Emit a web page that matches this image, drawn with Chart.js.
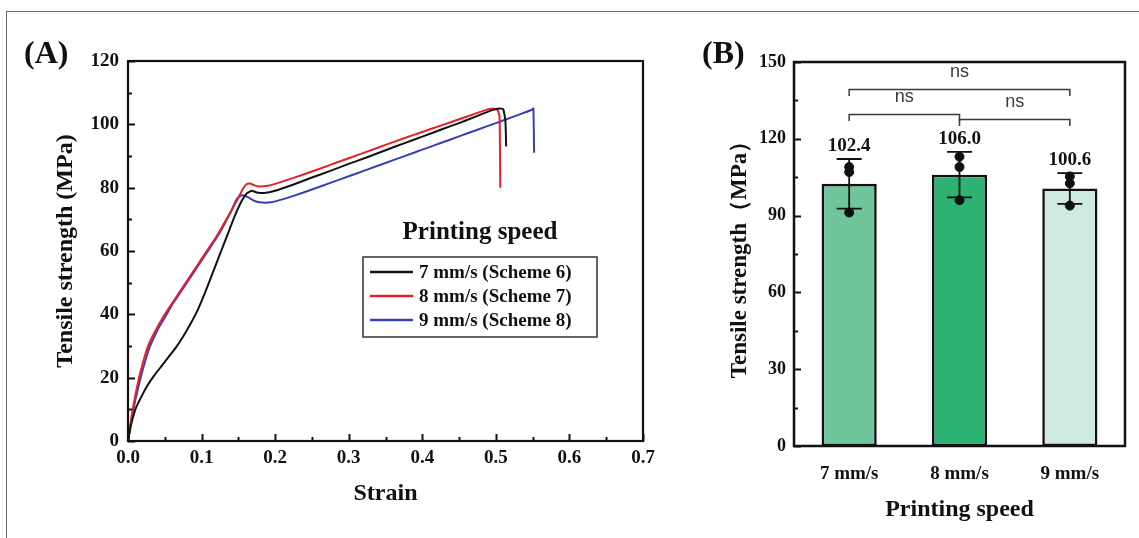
<!DOCTYPE html>
<html>
<head>
<meta charset="utf-8">
<script src="https://cdn.jsdelivr.net/npm/chart.js@4.4.1/dist/chart.umd.min.js"></script>
<style>
  html, body { margin: 0; padding: 0; background: #fff; }
  #page { position: relative; width: 1139px; height: 538px; overflow: hidden; background: #fff; }
  #frame { position: absolute; left: 6px; top: 11px; width: 1200px; height: 600px;
           border-left: 1px solid #6a6a6a; border-top: 1px solid #6a6a6a; }
  .panel { position: absolute; top: 0; height: 538px; }
  #wrapA { left: 0; width: 680px; }
  #wrapB { left: 680px; width: 459px; }
  .tag { position: absolute; font: bold 32px 'Liberation Serif', 'Times New Roman', serif; color: #111; line-height: 1; }
</style>
</head>
<body>
<div id="page">
  <div id="frame"></div>
  <div class="panel" id="wrapA"><canvas id="chartA" width="680" height="538"></canvas></div>
  <div class="panel" id="wrapB"><canvas id="chartB" width="459" height="538"></canvas></div>
  <div class="tag" style="left:24px; top:36px;">(A)</div>
  <div class="tag" style="left:702px; top:36px;">(B)</div>
</div>
<script>
// ---------- Panel A: stress-strain curves ----------
const strain7 = [0, 0.004, 0.01, 0.016, 0.025, 0.035, 0.045, 0.055, 0.065, 0.075, 0.085, 0.095, 0.105, 0.115, 0.125, 0.135, 0.145, 0.155, 0.162, 0.168, 0.175, 0.185, 0.2, 0.225, 0.25, 0.275, 0.3, 0.325, 0.35, 0.375, 0.4, 0.425, 0.45, 0.47, 0.485, 0.495, 0.505, 0.51, 0.513, 0.514];
const stress7 = [0, 5, 10, 13, 17, 20.5, 23.5, 26.5, 29.5, 33, 37, 41.5, 47, 53, 59, 65, 71, 76, 78.3, 79, 78.5, 78.3, 79, 81, 83.2, 85.3, 87.5, 89.6, 91.8, 94, 96.1, 98.3, 100.4, 102.2, 103.6, 104.5, 105, 104.8, 101, 93];

const strain8 = [0, 0.005, 0.01, 0.015, 0.02, 0.025, 0.03, 0.04, 0.05, 0.06, 0.07, 0.08, 0.09, 0.1, 0.11, 0.12, 0.13, 0.14, 0.15, 0.156, 0.161, 0.166, 0.171, 0.178, 0.19, 0.2, 0.225, 0.25, 0.275, 0.3, 0.325, 0.35, 0.375, 0.4, 0.425, 0.45, 0.47, 0.485, 0.495, 0.502, 0.505, 0.506];
const stress8 = [0, 8, 14.5, 20, 24.5, 28.5, 31.5, 36, 40, 43.5, 47, 50.5, 54, 57.5, 61, 64.5, 68.5, 72.5, 76.8, 79.6, 81.1, 81.3, 80.8, 80.4, 80.6, 81.2, 83.1, 85.1, 87.2, 89.3, 91.4, 93.5, 95.6, 97.6, 99.6, 101.6, 103.2, 104.4, 105, 104.6, 102.5, 80];

const strain9 = [0, 0.005, 0.01, 0.015, 0.02, 0.025, 0.03, 0.04, 0.05, 0.06, 0.07, 0.08, 0.09, 0.1, 0.11, 0.12, 0.13, 0.14, 0.148, 0.155, 0.163, 0.172, 0.182, 0.195, 0.21, 0.225, 0.25, 0.275, 0.3, 0.325, 0.35, 0.375, 0.4, 0.425, 0.45, 0.475, 0.5, 0.525, 0.54, 0.549, 0.551, 0.552];
const stress9 = [0, 7, 13, 18, 22.5, 26.5, 30, 35, 39, 43, 46.5, 50, 53.5, 57, 60.5, 64, 68, 72.5, 76.5, 77.6, 77, 75.8, 75.3, 75.4, 76.3, 77.4, 79.4, 81.5, 83.6, 85.7, 87.8, 89.9, 92, 94.1, 96.2, 98.3, 100.4, 102.5, 103.8, 104.6, 105, 91];

const curveLabels = ['7 mm/s (Scheme 6)', '8 mm/s (Scheme 7)', '9 mm/s (Scheme 8)'];
const curveColors = ['#111111', '#e8202a', '#3a3db8'];
const strainTicks = [0, 0.1, 0.2, 0.3, 0.4, 0.5, 0.6, 0.7];
const stressTicks = [0, 20, 40, 60, 80, 100, 120];

// ---------- Panel B: mean tensile strength ----------
const speeds = ['7 mm/s', '8 mm/s', '9 mm/s'];
const meanStrength = [102.4, 106.0, 100.6];
const sdStrength = [9.7, 8.9, 6.0];
const sampleA = [109.0, 113.0, 105.3];
const sampleB = [107.0, 109.0, 102.6];
const sampleC = [91.2, 96.0, 93.9];
const barColors = ['#6fc69c', '#2cb374', '#cfeadf'];
const strengthTicks = [0, 30, 60, 90, 120, 150];
const comparisons = [
  { from: 0, to: 2, level: 139.3, text: 'ns' },
  { from: 0, to: 1, level: 129.7, text: 'ns' },
  { from: 1, to: 2, level: 127.9, text: 'ns' }
];

const SERIF = "'Liberation Serif', 'Times New Roman', serif";
Chart.defaults.font.family = SERIF;
Chart.defaults.font.weight = 'bold';
Chart.defaults.font.size = 19;
Chart.defaults.color = '#111';

// Inward tick marks plus a closed frame around the plot area.
const frameTicks = {
  id: 'frameTicks',
  afterDatasetsDraw(chart, args, opts) {
    const { ctx, chartArea: a } = chart;
    ctx.save();
    ctx.strokeStyle = '#111';
    ctx.lineWidth = 2;
    (opts.axes || []).forEach(ax => {
      const sc = chart.scales[ax.id];
      const n = Math.round((sc.max - sc.min) / ax.minor);
      for (let i = 0; i <= n; i++) {
        const v = sc.min + i * ax.minor;
        const major = i % ax.every === 0;
        const len = major ? ax.majorLen : ax.minorLen;
        const p = Math.round(sc.getPixelForValue(v)) + 0.5;
        ctx.beginPath();
        if (sc.isHorizontal()) { ctx.moveTo(p, a.bottom); ctx.lineTo(p, a.bottom - len); }
        else { ctx.moveTo(a.left, p); ctx.lineTo(a.left + len, p); }
        ctx.stroke();
      }
    });
    ctx.lineWidth = opts.frameWidth || 2.2;
    ctx.strokeRect(a.left, a.top, a.right - a.left, a.bottom - a.top);
    ctx.restore();
  }
};

// Boxed legend with a heading, placed inside the plot area.
const boxLegend = {
  id: 'boxLegend',
  afterDatasetsDraw(chart, args, opts) {
    if (!opts.display) return;
    const { ctx, chartArea: a } = chart;
    const x0 = a.left + opts.dx, y0 = a.top + opts.dy;
    ctx.save();
    ctx.fillStyle = '#111';
    ctx.textAlign = 'center';
    ctx.textBaseline = 'middle';
    ctx.font = 'bold 25px ' + SERIF;
    ctx.fillText(opts.title, x0 + opts.w / 2, y0 - 24);
    ctx.strokeStyle = '#333';
    ctx.lineWidth = 1.5;
    ctx.strokeRect(x0, y0, opts.w, opts.h);
    ctx.font = 'bold 19px ' + SERIF;
    ctx.textAlign = 'left';
    chart.data.datasets.forEach((ds, i) => {
      const y = y0 + 15 + i * 24;
      ctx.strokeStyle = ds.borderColor;
      ctx.lineWidth = 2.5;
      ctx.beginPath();
      ctx.moveTo(x0 + 7, y); ctx.lineTo(x0 + 50, y);
      ctx.stroke();
      ctx.fillText(ds.label, x0 + 56, y + 1);
    });
    ctx.restore();
  }
};

// Error bars, value labels and significance brackets for the bar panel.
const barExtras = {
  id: 'barExtras',
  afterDatasetsDraw(chart, args, opts) {
    const { ctx } = chart;
    const ys = chart.scales.y;
    const meta = chart.getDatasetMeta(0);
    const ds = chart.data.datasets[0];
    ctx.save();
    ctx.strokeStyle = '#111';
    ctx.lineWidth = 1.8;
    ctx.fillStyle = '#111';
    meta.data.forEach((bar, i) => {
      const m = ds.data[i], s = opts.sd[i];
      const cx = bar.x;
      const yHi = ys.getPixelForValue(m + s), yLo = ys.getPixelForValue(m - s);
      ctx.beginPath();
      ctx.moveTo(cx, yHi); ctx.lineTo(cx, yLo);
      ctx.moveTo(cx - 12.5, yHi); ctx.lineTo(cx + 12.5, yHi);
      ctx.moveTo(cx - 12.5, yLo); ctx.lineTo(cx + 12.5, yLo);
      ctx.stroke();
      ctx.font = 'bold 19px ' + SERIF;
      ctx.textAlign = 'center';
      ctx.textBaseline = 'alphabetic';
      ctx.fillText(m.toFixed(1), cx, yHi - 8);
    });
    ctx.strokeStyle = '#3a3a3a';
    ctx.lineWidth = 1.5;
    ctx.fillStyle = '#3a3a3a';
    ctx.font = "18px 'Liberation Sans', Arial, sans-serif";
    opts.brackets.forEach(b => {
      const x1 = meta.data[b.from].x, x2 = meta.data[b.to].x;
      const y = Math.round(ys.getPixelForValue(b.level)) + 0.5;
      const drop = 6.5;
      ctx.beginPath();
      ctx.moveTo(x1, y + drop); ctx.lineTo(x1, y); ctx.lineTo(x2, y); ctx.lineTo(x2, y + drop);
      ctx.stroke();
      ctx.textAlign = 'center';
      ctx.textBaseline = 'middle';
      ctx.fillText(b.text, (x1 + x2) / 2, y - 17);
    });
    ctx.restore();
  }
};

const quietGrid = { display: false, drawTicks: false };

new Chart(document.getElementById('chartA'), {
  type: 'line',
  data: {
    datasets: [
      { label: curveLabels[0], data: strain7.map((x, i) => ({ x, y: stress7[i] })), borderColor: curveColors[0] },
      { label: curveLabels[1], data: strain8.map((x, i) => ({ x, y: stress8[i] })), borderColor: curveColors[1] },
      { label: curveLabels[2], data: strain9.map((x, i) => ({ x, y: stress9[i] })), borderColor: curveColors[2] }
    ]
  },
  options: {
    responsive: false,
    animation: false,
    layout: { padding: { top: 61, right: 37, left: 0, bottom: 0 } },
    elements: { point: { radius: 0 }, line: { borderWidth: 2, tension: 0.15, fill: false } },
    plugins: {
      legend: { display: false },
      tooltip: { enabled: false },
      frameTicks: { frameWidth: 2.2, axes: [
        { id: 'x', minor: 0.05, every: 2, majorLen: 7, minorLen: 4 },
        { id: 'y', minor: 10, every: 2, majorLen: 7, minorLen: 4 }
      ] },
      boxLegend: { display: true, title: 'Printing speed', dx: 235, dy: 196, w: 234, h: 80 }
    },
    scales: {
      x: {
        type: 'linear', min: 0, max: 0.7,
        afterBuildTicks: s => { s.ticks = strainTicks.map(v => ({ value: v })); },
        ticks: { padding: 6, callback: v => v.toFixed(1) },
        grid: quietGrid, border: { display: false },
        title: { display: true, text: 'Strain', font: { size: 24 }, padding: { bottom: 30, top: 0 } },
        afterFit: s => { s.height = 97; }
      },
      y: {
        type: 'linear', min: 0, max: 120,
        afterBuildTicks: s => { s.ticks = stressTicks.map(v => ({ value: v })); },
        ticks: { padding: 9 },
        grid: quietGrid, border: { display: false },
        title: { display: true, text: 'Tensile strength (MPa)', font: { size: 24 }, padding: { top: 51, bottom: 0 } },
        afterFit: s => { s.width = 128; }
      }
    }
  },
  plugins: [frameTicks, boxLegend]
});

const pointStyle = { type: 'line', showLine: false, pointRadius: 4.5, pointHoverRadius: 4.5,
  pointBackgroundColor: '#111', pointBorderColor: '#111', borderColor: '#111' };

new Chart(document.getElementById('chartB'), {
  type: 'bar',
  data: {
    labels: speeds,
    datasets: [
      { label: 'Tensile strength', data: meanStrength, backgroundColor: barColors, borderColor: '#111',
        borderWidth: 2.6, borderSkipped: false, barPercentage: 0.5, categoryPercentage: 1.0, order: 2 },
      Object.assign({ label: 'Sample 1', data: sampleA, order: 1 }, pointStyle),
      Object.assign({ label: 'Sample 2', data: sampleB, order: 1 }, pointStyle),
      Object.assign({ label: 'Sample 3', data: sampleC, order: 1 }, pointStyle)
    ]
  },
  options: {
    responsive: false,
    animation: false,
    layout: { padding: { top: 62, right: 14, left: 0, bottom: 0 } },
    plugins: {
      legend: { display: false },
      tooltip: { enabled: false },
      frameTicks: { frameWidth: 2.5, axes: [ { id: 'y', minor: 15, every: 2, majorLen: 7, minorLen: 4 } ] },
      barExtras: { sd: sdStrength, brackets: comparisons }
    },
    scales: {
      x: {
        ticks: { padding: 17, font: { size: 19 } },
        grid: quietGrid, border: { display: false },
        title: { display: true, text: 'Printing speed', font: { size: 24 }, padding: { bottom: 14, top: 0 } },
        afterFit: s => { s.height = 92; }
      },
      y: {
        type: 'linear', min: 0, max: 150,
        afterBuildTicks: s => { s.ticks = strengthTicks.map(v => ({ value: v })); },
        ticks: { padding: 8, font: { size: 18 } },
        grid: quietGrid, border: { display: false },
        title: { display: true, text: 'Tensile strength（MPa）', font: { size: 23 }, padding: { top: 46, bottom: 0 } },
        afterFit: s => { s.width = 114; }
      }
    }
  },
  plugins: [frameTicks, barExtras]
});
</script>
</body>
</html>
